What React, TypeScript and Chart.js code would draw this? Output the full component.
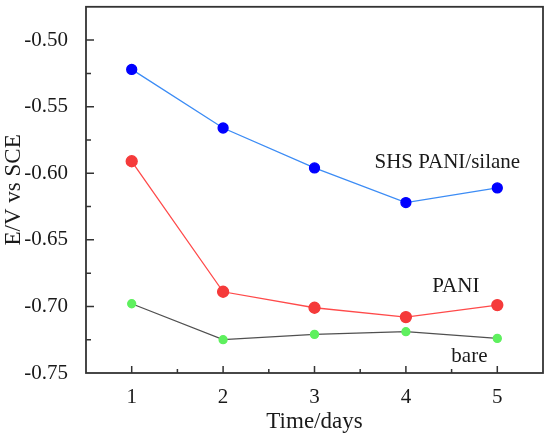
import React, { useEffect, useRef } from "react";
import { Chart, registerables } from "chart.js";

Chart.register(...registerables);

const days = [1, 2, 3, 4, 5];
const shsValues = [-0.522, -0.566, -0.596, -0.622, -0.611];
const paniValues = [-0.591, -0.689, -0.701, -0.708, -0.699];
const bareValues = [-0.698, -0.725, -0.721, -0.719, -0.724];

const seriesNames = ["SHS PANI/silane", "PANI", "bare"];
const labelX = [3.656, 4.289, 4.497];
const labelY = [-0.5957, -0.6892, -0.7416];

const FONT = "'Liberation Serif', 'Times New Roman', serif";

const isMultiple = (v: number, step: number) =>
  Math.abs(v / step - Math.round(v / step)) < 1e-6;

const framePlugin = {
  id: "frame",
  beforeDatasetsDraw(chart: any) {
    const { ctx, chartArea } = chart;
    const { left, right, top, bottom } = chartArea;
    const xs = chart.scales.x;
    const ys = chart.scales.y;
    ctx.save();
    ctx.strokeStyle = "#333333";
    ctx.lineWidth = 1.5;
    ctx.beginPath();
    xs.ticks.forEach((t: any) => {
      const px = xs.getPixelForValue(t.value);
      if (px <= left + 1 || px >= right - 1) return;
      const len = isMultiple(t.value, 1) ? 7 : 4;
      ctx.moveTo(px, bottom);
      ctx.lineTo(px, bottom - len);
    });
    ys.ticks.forEach((t: any) => {
      const py = ys.getPixelForValue(t.value);
      if (py <= top + 1 || py >= bottom - 1) return;
      const len = isMultiple(t.value, 0.05) ? 8 : 5;
      ctx.moveTo(left, py);
      ctx.lineTo(left + len, py);
    });
    ctx.stroke();
    ctx.lineWidth = 1.8;
    ctx.strokeRect(left, top, right - left, bottom - top);
    ctx.restore();
  },
  afterDatasetsDraw(chart: any) {
    const { ctx } = chart;
    const xs = chart.scales.x;
    const ys = chart.scales.y;
    ctx.save();
    ctx.fillStyle = "#1a1a1a";
    ctx.font = `21px ${FONT}`;
    ctx.textAlign = "left";
    ctx.textBaseline = "alphabetic";
    seriesNames.forEach((name, i) => {
      ctx.fillText(name, xs.getPixelForValue(labelX[i]), ys.getPixelForValue(labelY[i]));
    });
    ctx.restore();
  },
};

export default function App() {
  const ref = useRef<HTMLCanvasElement>(null);
  useEffect(() => {
    document.body.style.margin = "0";
    const toPts = (vals: number[]) => vals.map((v, i) => ({ x: days[i], y: v }));
    const chart = new Chart(ref.current!, {
      type: "line",
      data: {
        datasets: [
          {
            label: seriesNames[0],
            data: toPts(shsValues),
            borderColor: "#3c8cf5",
            backgroundColor: "#0000ff",
            pointBackgroundColor: "#0000ff",
            pointBorderColor: "#0000ff",
            pointRadius: 5,
            borderWidth: 1.3,
          },
          {
            label: seriesNames[1],
            data: toPts(paniValues),
            borderColor: "#ff4a4a",
            backgroundColor: "#f53a3a",
            pointBackgroundColor: "#f53a3a",
            pointBorderColor: "#f53a3a",
            pointRadius: 5.5,
            borderWidth: 1.3,
          },
          {
            label: seriesNames[2],
            data: toPts(bareValues),
            borderColor: "#505050",
            backgroundColor: "#5ef05e",
            pointBackgroundColor: "#5ef05e",
            pointBorderColor: "#5ef05e",
            pointRadius: 4,
            borderWidth: 1.3,
          },
        ],
      },
      options: {
        animation: false,
        responsive: false,
        devicePixelRatio: 1,
        layout: { padding: { top: 5, right: 7, left: 0, bottom: 0 } },
        plugins: { legend: { display: false }, tooltip: { enabled: false } },
        scales: {
          x: {
            type: "linear",
            min: 0.5,
            max: 5.5,
            border: { display: false },
            grid: { display: false },
            ticks: {
              stepSize: 0.5,
              autoSkip: false,
              maxRotation: 0,
              padding: 4,
              color: "#1a1a1a",
              font: { family: FONT, size: 21 },
              callback: (v: any) => (isMultiple(Number(v), 1) ? String(v) : ""),
            },
            title: {
              display: true,
              text: "Time/days",
              color: "#1a1a1a",
              font: { family: FONT, size: 23 },
              padding: 0,
            },
            afterFit: (s: any) => {
              s.height = 63;
              s.paddingLeft = 0;
              s.paddingRight = 0;
            },
          },
          y: {
            type: "linear",
            min: -0.75,
            max: -0.475,
            border: { display: false },
            grid: { display: false },
            ticks: {
              stepSize: 0.025,
              autoSkip: false,
              padding: 10,
              color: "#1a1a1a",
              font: { family: FONT, size: 21 },
              callback: (v: any) => {
                const n = Number(v);
                return isMultiple(n, 0.05) ? n.toFixed(2) : "";
              },
            },
            title: {
              display: true,
              text: "E/V vs SCE",
              color: "#1a1a1a",
              font: { family: FONT, size: 23 },
              padding: 0,
            },
            afterFit: (s: any) => {
              s.width = 86;
              s.paddingTop = 0;
              s.paddingBottom = 0;
            },
          },
        },
      },
      plugins: [framePlugin],
    });
    return () => chart.destroy();
  }, []);
  return (
    <div style={{ position: "absolute", left: 0, top: 0, width: 550, height: 436, background: "#fff" }}>
      <canvas ref={ref} width={550} height={436} />
    </div>
  );
}
